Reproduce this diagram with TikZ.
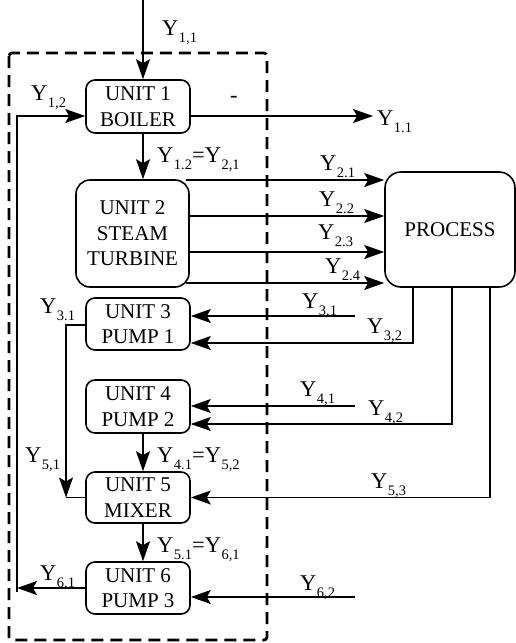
\documentclass[tikz,border=0pt]{standalone}
\usepackage{fontspec}
\setmainfont{Liberation Serif}
\usetikzlibrary{arrows.meta}
% stream label: Y with a lowered index
\newcommand\yv[1]{Y\kern0.5pt\raisebox{-7.5pt}{\fontsize{14.5}{14.5}\selectfont #1}}
\tikzset{
  unitbox/.style={draw, line width=1.6pt, rounded corners=9pt, inner sep=0pt,
    align=center, font=\fontsize{21}{25.5}\selectfont},
  flow/.style={line width=1.2pt},
  arr/.style={flow, -{Stealth[length=20pt,width=14pt,inset=4pt]}},
  lbl/.style={anchor=base west, inner sep=0pt, font=\fontsize{22.5}{25}\selectfont},
  boundary/.style={line width=2.8pt, dash pattern=on 12pt off 7pt, rounded corners=3pt}
}
\begin{document}
\begin{tikzpicture}[x=1pt,y=-1pt]
\useasboundingbox (0,0) rectangle (516,643);

% control volume boundary
\draw[boundary] (9,53) rectangle (267,640);

% units
\node[unitbox, minimum width=104pt, minimum height=53pt] (u1) at (138,106.5) {UNIT 1\\BOILER};
\node[unitbox, minimum width=113pt, minimum height=107pt, rounded corners=14pt] (u2) at (132.5,233.5) {UNIT 2\\STEAM\\TURBINE};
\node[unitbox, minimum width=104pt, minimum height=52pt] (u3) at (138,324) {UNIT 3\\PUMP 1};
\node[unitbox, minimum width=104pt, minimum height=53pt] (u4) at (138,406.5) {UNIT 4\\PUMP 2};
\node[unitbox, minimum width=104pt, minimum height=51pt] (u5) at (138,497.5) {UNIT 5\\MIXER};
\node[unitbox, minimum width=104pt, minimum height=52pt] (u6) at (138,588) {UNIT 6\\PUMP 3};
\node[unitbox, minimum width=130pt, minimum height=115pt, rounded corners=16pt] (proc) at (450,229.5) {PROCESS};

% free stream ends
\coordinate (in11) at (143,0);
\coordinate (out11) at (373,116);
\coordinate (in31) at (355,316);
\coordinate (in41) at (355,406);
\coordinate (in62) at (355,597);
\coordinate (ret) at (17,116);
\coordinate (retb) at (17,592);
\coordinate (bend6) at (17,588);
\coordinate (mixa) at (66,325);
\coordinate (mixb) at (66,497.5);

% boiler
\draw[arr] (in11) -- (u1.north -| in11);
\draw[arr] (u1.east |- out11) -- (out11);
\draw[arr] (retb) -- (ret) -- (u1.west |- ret);
\draw[arr] (u1.south -| in11) -- (u2.north -| in11);

% turbine to process
\draw[arr] (186,180) -- (proc.west |- 0,180);
\draw[arr] (u2.east |- 0,216) -- (proc.west |- 0,216);
\draw[arr] (u2.east |- 0,252) -- (proc.west |- 0,252);
\draw[arr] (186,283) -- (proc.west |- 0,283);

% returns from process
\draw[arr] (proc.south -| 413,0) |- (u3.east |- 0,343);
\draw[arr] (proc.south -| 452,0) |- (u4.east |- 0,424);
\draw[arr] (proc.south -| 490,0) |- (u5.east);

% pumps and mixer
\draw[arr] (in31) -- (u3.east |- in31);
\draw[arr] (in41) -- (u4.east |- in41);
\draw[arr] (u3.west |- mixa) -- (mixa) -- (mixb);
\draw[flow] (mixb) -- (u5.west);
\draw[arr] (u4.south -| in11) -- (u5.north -| in11);
\draw[arr] (u5.south -| in11) -- (u6.north -| in11);
\draw[arr] (u6.west) -- (bend6);
\draw[arr] (in62) -- (u6.east |- in62);

% stream labels
\node[lbl] (l11) at (162,35) {\yv{1,1}};
\node[lbl] (l12) at (31,100) {\yv{1,2}};
\node[lbl] (dash) at (230,102) {-};
\node[lbl] (l11o) at (377,125) {\yv{1.1}};
\node[lbl] (l12e) at (157,162) {\yv{1.2}=\yv{2,1}};
\node[lbl] (l21) at (320,170) {\yv{2.1}};
\node[lbl] (l22) at (319,206) {\yv{2.2}};
\node[lbl] (l23) at (318,239) {\yv{2.3}};
\node[lbl] (l24) at (325,273) {\yv{2.4}};
\node[lbl] (l31) at (302,308) {\yv{3,1}};
\node[lbl] (l32) at (367,333) {\yv{3,2}};
\node[lbl] (l31l) at (40,313) {\yv{3.1}};
\node[lbl] (l41) at (300,396) {\yv{4,1}};
\node[lbl] (l42) at (368,415) {\yv{4,2}};
\node[lbl] (l51) at (25,462) {\yv{5,1}};
\node[lbl] (l41e) at (157,462) {\yv{4.1}=\yv{5,2}};
\node[lbl] (l53) at (371,488) {\yv{5,3}};
\node[lbl] (l51e) at (157,552) {\yv{5.1}=\yv{6,1}};
\node[lbl] (l61) at (40,580) {\yv{6.1}};
\node[lbl] (l62) at (300,590) {\yv{6,2}};
\end{tikzpicture}
\end{document}
